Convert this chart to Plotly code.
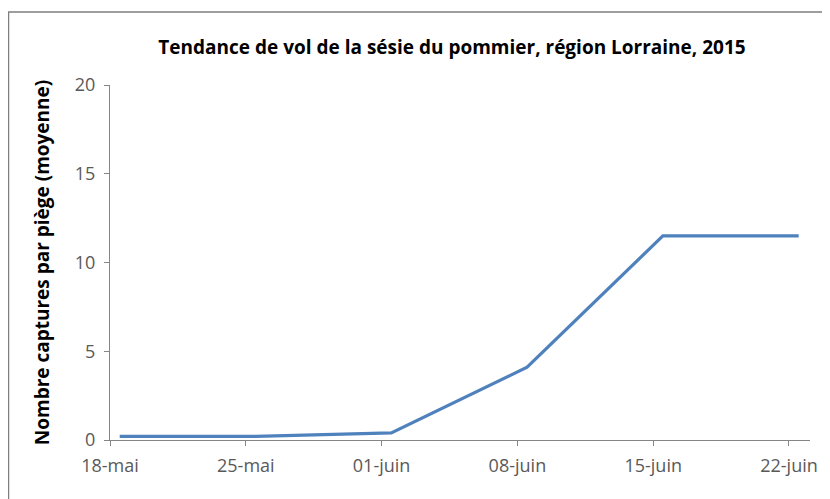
import pandas as pd
import plotly.graph_objects as go

dates = ["2015-05-18", "2015-05-25", "2015-06-01", "2015-06-08", "2015-06-15", "2015-06-22"]
tick_labels = ["18-mai", "25-mai", "01-juin", "08-juin", "15-juin", "22-juin"]
captures = [0.2, 0.2, 0.4, 4.1, 11.5, 11.5]

title_text = "Tendance de vol de la sésie du pommier, région Lorraine, 2015"
y_title = "Nombre captures par piège (moyenne)"

# points sit in the middle of the day slot (date axis)
x_points = pd.to_datetime(dates) + pd.Timedelta(hours=12)

fig = go.Figure()
fig.add_trace(go.Scatter(
    x=x_points, y=captures, mode="lines",
    line=dict(color="#4F81BD", width=3.2),
    showlegend=False, hoverinfo="skip"
))

font_main = "Open Sans, Liberation Sans, Arial"

W, H = 822, 491  # page body has an 8px margin
L, R, T, B = 102, 20, 77, 59

fig.update_layout(
    width=W, height=H,
    margin=dict(l=L, r=R, t=T, b=B),
    paper_bgcolor="white", plot_bgcolor="white",
    title=dict(text="<b>" + title_text + "</b>", x=444 / W, xanchor="center",
               y=1 - 39 / H, yanchor="middle",
               font=dict(family=font_main, size=19, color="#000000")),
    xaxis=dict(
        type="date",
        range=["2015-05-18", "2015-06-23 02:00"],
        tickvals=pd.to_datetime(dates), ticktext=tick_labels,
        showgrid=False, zeroline=False,
        showline=True, linecolor="#868686", linewidth=1,
        ticks="outside", ticklen=5, tickcolor="#868686",
        ticklabelstandoff=4,
        tickfont=dict(family=font_main, size=18, color="#595959"),
    ),
    yaxis=dict(
        range=[0, 20], tickvals=[0, 5, 10, 15, 20],
        showgrid=False, zeroline=False,
        showline=True, linecolor="#868686", linewidth=1,
        ticks="outside", ticklen=5, tickcolor="#868686",
        ticklabelstandoff=5,
        tickfont=dict(family=font_main, size=18, color="#595959"),
        title=dict(text="<b>" + y_title + "</b>", standoff=20,
                   font=dict(family=font_main, size=19, color="#000000")),
    ),
    shapes=[dict(type="rect", xref="paper", yref="paper",
                 x0=-0.1450, y0=-0.4, x1=1.2, y1=1.2056,
                 line=dict(color="#7f7f7f", width=1.5), fillcolor="rgba(0,0,0,0)")],
)

fig.write_html("out.html")
